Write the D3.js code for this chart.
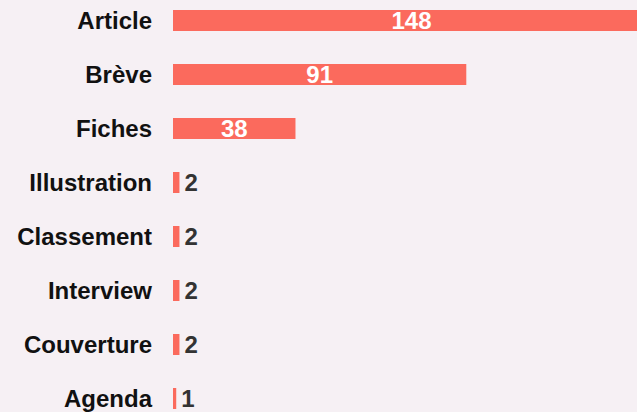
<!DOCTYPE html>
<html><head><meta charset="utf-8">
<script src="https://cdn.jsdelivr.net/npm/d3@7"></script>
<style>html,body{margin:0;padding:0;background:#f6f0f4;overflow:hidden}</style>
</head><body>
<svg id="c" width="637" height="412"></svg>
<script>
const categories = ["Article","Brève","Fiches","Illustration","Classement","Interview","Couverture","Agenda"];
const values = [148,91,38,2,2,2,2,1];

const W = 637, H = 412, left = 173;
const svg = d3.select("#c");
svg.append("rect").attr("width",W).attr("height",H).attr("fill","#f6f0f4");

const x = d3.scaleLinear().domain([0,148]).range([left, left+477]);
const step = 54, bw = 21, p = (step-bw)/step;
const y = d3.scaleBand().domain(categories)
  .range([10 - step*p, 10 - step*p + step*(categories.length + p)])
  .padding(p);

const g = svg.append("g");
const data = categories.map((c,i)=>({c, v: values[i]}));
const font = "'Liberation Sans', Arial, Helvetica, sans-serif";

g.selectAll("rect.bar").data(data).join("rect")
  .attr("class","bar")
  .attr("x", x(0)).attr("y", d=>y(d.c))
  .attr("width", d=>x(d.v)-x(0)).attr("height", y.bandwidth())
  .attr("fill","#fb6a5d");

g.selectAll("text.cat").data(data).join("text")
  .attr("class","cat")
  .attr("x", 152).attr("y", d=>y(d.c)+y.bandwidth()/2)
  .attr("dy","0.35em").attr("text-anchor","end")
  .attr("font-family",font)
  .attr("font-weight","bold").attr("font-size",24)
  .attr("fill","#111")
  .text(d=>d.c);

g.selectAll("text.val").data(data).join("text")
  .attr("class","val")
  .attr("x", d=> d.v > 10 ? (x(0)+x(d.v))/2 : x(d.v)+5)
  .attr("y", d=>y(d.c)+y.bandwidth()/2)
  .attr("dy","0.36em")
  .attr("text-anchor", d=> d.v > 10 ? "middle" : "start")
  .attr("font-family",font)
  .attr("font-weight","bold").attr("font-size",24)
  .attr("fill", d=> d.v > 10 ? "#ffffff" : "#333333")
  .text(d=>d.v);
</script>
</body></html>
